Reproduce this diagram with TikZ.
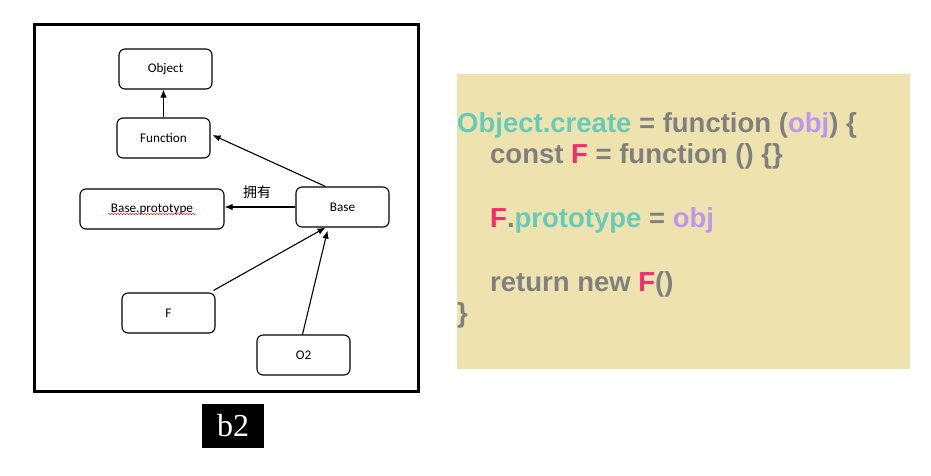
\documentclass[tikz,border=0pt]{standalone}
\usepackage{fontspec}
\setmainfont{Carlito}
\newfontfamily\cjkfont{Noto Sans CJK SC}
\newfontfamily\codefont{Liberation Sans}
\newfontfamily\tagfont{Liberation Serif}
\usetikzlibrary{arrows, arrows.meta, decorations.pathmorphing}
\definecolor{codebg}{RGB}{238,226,174}
\definecolor{codeteal}{RGB}{102,204,185}
\definecolor{codegray}{RGB}{128,128,128}
\definecolor{codepink}{RGB}{250,40,110}
\definecolor{codepurple}{RGB}{190,150,240}

\begin{document}
\begin{tikzpicture}[x=1pt, y=-1pt]
	\tikzstyle{box} = [draw, line width=1.1, rounded corners=6, minimum width=93, minimum height=40, inner sep=0pt, font=\fontsize{13.2}{15}\selectfont]
	\tikzstyle{link} = [line width=1.1, -{Latex[length=8pt, width=6.5pt]}]
	\tikzstyle{code} = [anchor=base west, inner sep=0pt, text=codegray, font=\codefont\bfseries\fontsize{27.5}{30}\selectfont]
	\useasboundingbox (0,0) rectangle (931,475);
	
	% left panel
	\draw[line width=3] (34,24) rectangle (418,391);
	\node[box] (obj) at (165.5,69) {Object}; \node[box] (fn) at (163.5,138) {Function}; \node[box, minimum width=144] (bp) at (152,209) {Base.prototype}; \node[box] (base) at (342.5,207) {Base}; \node[box] (f) at (168.5,313) {F}; \node[box] (o2) at (303.5,355) {O2};
	\draw[red, thin, decorate, decoration={snake, amplitude=0.8, segment length=3}] ([xshift=-44]bp.center |- 0,214) -- ([xshift=44]bp.center |- 0,214);
	
	\draw[link] (fn.north) -- (fn.north |- obj.south); \draw[link] ([xshift=-17]base.north) -- ([xshift=2, yshift=3]fn.east); \draw[link] (base.west) -- (base.west -| bp.east); \draw[link] ([xshift=-2, yshift=2]f.north east) -- ([xshift=-17]base.south); \draw[link] ([xshift=-1]o2.north) -- ([xshift=-15, yshift=-3]base.south);
	\node[inner sep=0pt, font=\cjkfont\fontsize{14}{16}\selectfont] (own) at (257,192) {拥有};
	
	% caption tag
	\node[fill=black, text=white, minimum width=62, minimum height=44, inner sep=0pt, font=\tagfont\fontsize{32}{34}\selectfont] (tag) at (233,426) {b2};
	
	% code panel
	\fill[codebg] (457,74) rectangle (910,369);
	\node[code] (line1) at (457,132) {\textcolor{codeteal}{Object.create} = function (\textcolor{codepurple}{obj}) \{};
	\node[code] (line2) at (490,163.5) {const \textcolor{codepink}{F} = function () \{\}};
	\node[code] (line3) at (490,227) {\textcolor{codepink}{F}.\textcolor{codeteal}{prototype} = \textcolor{codepurple}{obj}};
	\node[code] (line4) at (490,291) {return new \textcolor{codepink}{F}()};
	\node[code] (line5) at (457,322) {\}};
\end{tikzpicture}
\end{document}
